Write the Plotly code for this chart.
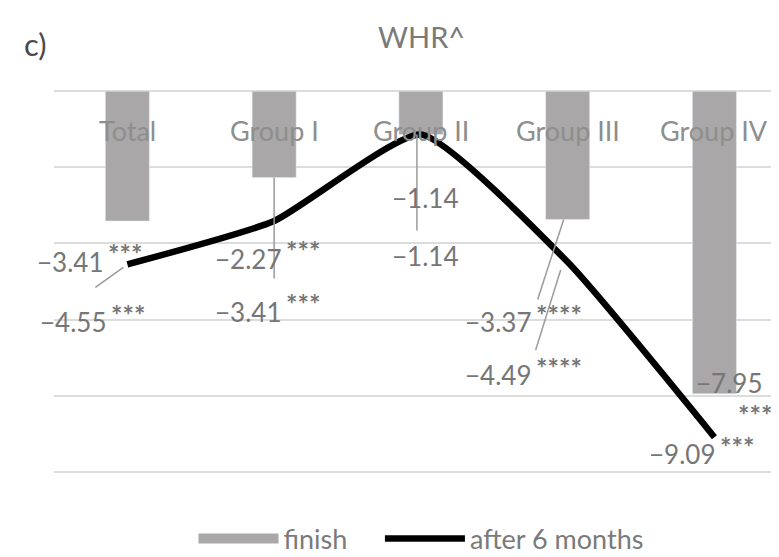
import plotly.graph_objects as go

categories = ["Total", "Group I", "Group II", "Group III", "Group IV"]
finish = [-3.41, -2.27, -1.14, -3.37, -7.95]
after6 = [-4.55, -3.41, -1.14, -4.49, -9.09]
finish_sig = ["***", "***", "", "****", "***"]
after_sig = ["***", "***", "", "****", "***"]
y_ticks = [0, -2, -4, -6, -8, -10]

FONT = "Lato"
TXT = "#767676"
BAR = "#a9a7a7"

# page has an 8px body margin; figure sized so it fits the 779x557 window
W, H = 771, 549
PL, PT, PW, PH = 46, 82, 725, 383

def px(sx):  # screen x (reference coords) -> paper x
    return (sx - 8 - PL) / PW

# label placement (pixel offsets from the data point: right edge of number, vertical centre; down positive)
fin_off = [(-22, 41), (9, 81), (39, 63), (-35, 103), (50, -11)]
aft_off = [(-19, 58), (9, 91), (39, 121), (-35, 113), (3, 17)]

fig = go.Figure()
fig.add_trace(go.Bar(x=list(range(5)), y=finish, marker_color=BAR, width=0.3,
                     showlegend=False, name="finish"))
fig.add_trace(go.Scatter(x=[None], y=[None], mode="lines", name="finish" + "\u00a0" * 4,
                         line=dict(color=BAR, width=12)))
fig.add_trace(go.Scatter(x=list(range(5)), y=after6, mode="lines", name="after 6 months",
                         line=dict(color="black", width=6.5, shape="spline", smoothing=0.5)))

ann = []
for i, c in enumerate(categories):
    ann.append(dict(x=i, y=0, xref="x", yref="y", text=c, showarrow=False,
                    yanchor="middle", yshift=-39, font=dict(family=FONT, size=27, color="#8e8e8e")))

def add_label(i, v, sig, off, stars_below=False):
    dx, dy = off
    ann.append(dict(x=i, y=v, xref="x", yref="y", text="−%.2f" % abs(v), showarrow=False,
                    xanchor="right", yanchor="middle", xshift=dx, yshift=-dy,
                    font=dict(family=FONT, size=26, color=TXT)))
    if sig:
        if stars_below:
            ann.append(dict(x=i, y=v, xref="x", yref="y", text="<b>%s</b>" % sig, showarrow=False,
                            xanchor="right", yanchor="middle", xshift=dx + 10, yshift=-dy - 32,
                            font=dict(family=FONT, size=27, color=TXT)))
        else:
            ann.append(dict(x=i, y=v, xref="x", yref="y", text="<b>%s</b>" % sig, showarrow=False,
                            xanchor="left", yanchor="middle", xshift=dx + 1, yshift=-dy + 8,
                            font=dict(family=FONT, size=27, color=TXT)))

for i in range(5):
    add_label(i, finish[i], finish_sig[i], fin_off[i], stars_below=(i == 4))
    add_label(i, after6[i], after_sig[i], aft_off[i])

ann.append(dict(x=px(421), y=1, xref="paper", yref="paper", yanchor="middle", yshift=54,
                text="WHR^", showarrow=False, font=dict(family=FONT, size=29, color="#7a7a7a")))
ann.append(dict(x=px(22), y=1, xref="paper", yref="paper", yanchor="middle", yshift=46,
                text="c)", showarrow=False, font=dict(family=FONT, size=31, color="#4a4a4a")))

LC = "#9a9a9a"
def leader(i, v, x0, y0, x1, y1):
    return dict(type="line", xref="x", yref="y", xsizemode="pixel", ysizemode="pixel",
                xanchor=i, yanchor=v, x0=x0, y0=y0, x1=x1, y1=y1,
                line=dict(color=LC, width=1.5))

shapes = [
    leader(0, after6[0], -4, -3, -32, -23),
    leader(1, finish[1], 0, 0, 0, -101),
    leader(2, after6[2], -4, 0, -4, -96),
    leader(3, finish[3], -4, 0, -30, -80),
    leader(3, after6[3], -7, -8, -32, -88),
]

fig.update_layout(
    width=W, height=H,
    margin=dict(l=PL, r=W - PL - PW, t=PT, b=H - PT - PH, autoexpand=False),
    plot_bgcolor="white", paper_bgcolor="white",
    xaxis=dict(range=[-0.5, 4.44], showticklabels=False, showgrid=False, zeroline=False,
               fixedrange=True),
    yaxis=dict(range=[-10.03, 0.03], tickvals=y_ticks, showticklabels=False, showgrid=True,
               gridcolor="#dcdcdc", gridwidth=2, zeroline=False),
    annotations=ann, shapes=shapes,
    legend=dict(orientation="h", x=px(421), xanchor="center", y=-(531 - PT - PH) / PH,
                yanchor="middle", font=dict(family=FONT, size=27, color="#7a7a7a"), itemwidth=80,
                traceorder="normal"),
    showlegend=True,
)
fig.write_html("out.html")
